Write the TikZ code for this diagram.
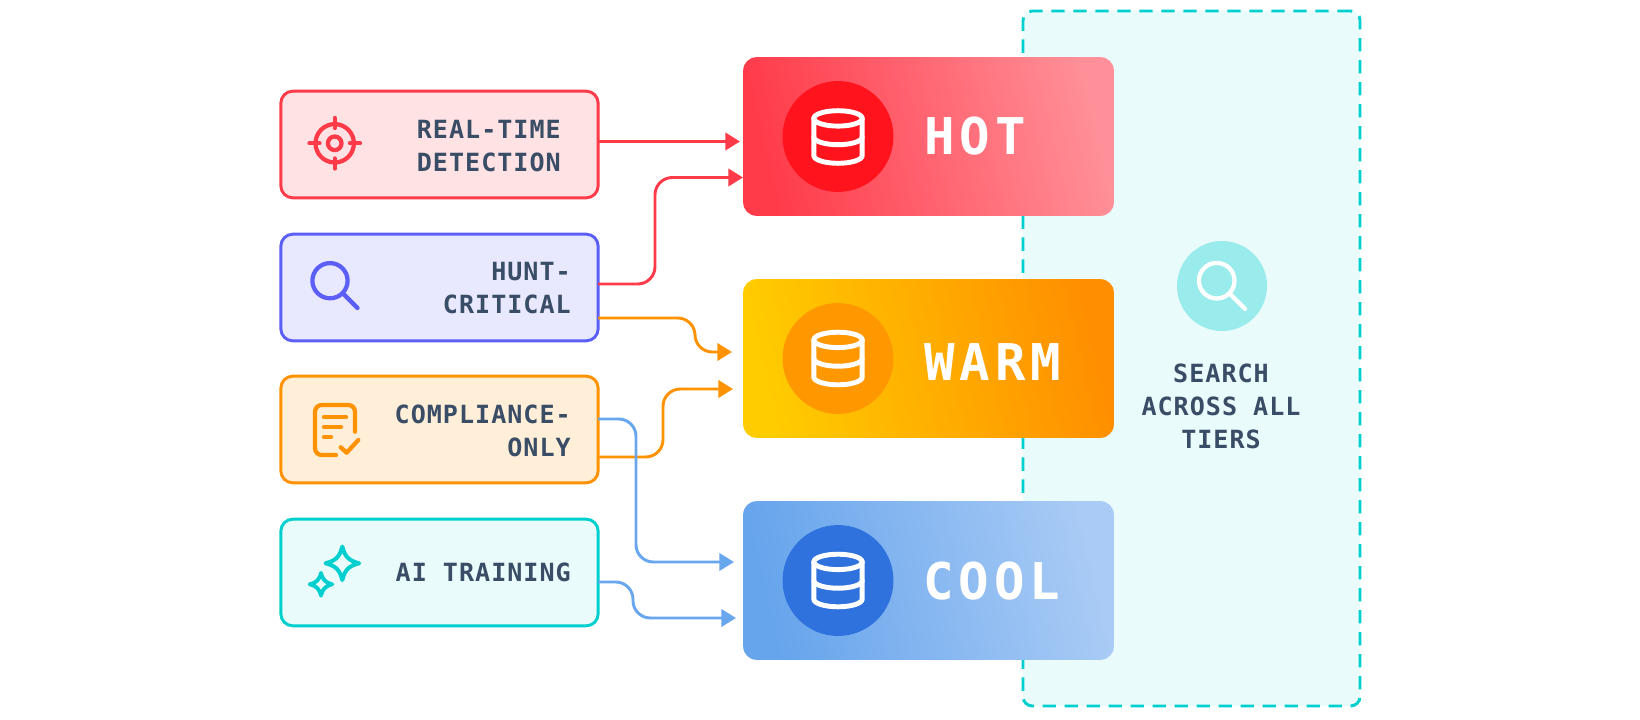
\documentclass[tikz,border=0pt]{standalone}
\usepackage{fontspec}
\usetikzlibrary{arrows.meta}
\newfontfamily\lblfont[LetterSpace=4]{DejaVu Sans Mono}
\newfontfamily\tierfont[LetterSpace=10]{DejaVu Sans Mono}
\definecolor{cred}{HTML}{FF3B4A}
\definecolor{cpurple}{HTML}{5B5FF5}
\definecolor{corange}{HTML}{FF9200}
\definecolor{cteal}{HTML}{00CFD0}
\definecolor{cblue}{HTML}{68A6EE}
\definecolor{ctext}{HTML}{3A4D66}
\definecolor{hotend}{HTML}{FF8F98}
\definecolor{warmstart}{HTML}{FFCC00}
\definecolor{warmend}{HTML}{FF8F00}
\definecolor{coolstart}{HTML}{66A4EC}
\definecolor{coolend}{HTML}{A9CBF5}
\definecolor{hotcirc}{HTML}{FF141E}
\definecolor{warmcirc}{HTML}{FF9800}
\definecolor{coolcirc}{HTML}{2F72DE}
\definecolor{searchcirc}{HTML}{9AECEC}
\definecolor{tealfill}{HTML}{E9FBFB}
\tikzset{
  srcbox/.style={draw=#1,line width=2.2pt,rounded corners=9pt,minimum width=238pt,minimum height=80pt,outer sep=0pt,inner sep=0pt},
  tierbox/.style={rounded corners=10pt,minimum width=278pt,minimum height=119pt,outer sep=0pt,inner sep=0pt},
  tiercirc/.style={circle,minimum size=83.2pt,inner sep=0pt,outer sep=0pt},
  lbl/.style={text=ctext,inner sep=0pt,font={\lblfont\bfseries\fontsize{18.8pt}{24.75pt}\selectfont}},
  tierlbl/.style={text=white,inner sep=0pt,anchor=base west,font={\tierfont\bfseries\fontsize{38pt}{40pt}\selectfont}},
  conn/.style={draw=#1,line width=2.2pt,rounded corners=13pt,-{Triangle[length=11pt,width=13pt]}},
  icon/.style={line width=3.2pt,line cap=round,line join=round},
  dbline/.style={draw=white,line width=3.7pt,line cap=round,line join=round},
  pics/dbicon/.style={code={
    \draw[dbline] (0,-18.6) ellipse [x radius=24.2,y radius=7.7];
    \draw[dbline] (-24.2,-18.6) -- (-24.2,18.6) arc [start angle=180,end angle=360,x radius=24.2,y radius=-7.7] -- (24.2,-18.6);
    \draw[dbline] (-24.2,0) arc [start angle=180,end angle=360,x radius=24.2,y radius=-7.7];
  }},
  pics/sparkle/.style={code={
    \draw[icon,draw=cteal,line width=#1] (0,-1) .. controls (0.16,-0.38) and (0.38,-0.16) .. (1,0)
      .. controls (0.38,0.16) and (0.16,0.38) .. (0,1)
      .. controls (-0.16,0.38) and (-0.38,0.16) .. (-1,0)
      .. controls (-0.38,-0.16) and (-0.16,-0.38) .. (0,-1) -- cycle;
  }},
}
\begin{document}
\begin{tikzpicture}[x=0.75pt,y=-0.75pt]
\useasboundingbox (0,0) rectangle (1640,720);
% search panel
\node[name=panel,draw=cteal,fill=tealfill,line width=2.2pt,dash pattern=on 10pt off 6.5pt,rounded corners=7pt,minimum width=252.75pt,minimum height=521.25pt,inner sep=0,outer sep=0] at (1191.5,358.5) {};
% source boxes
\node[srcbox=cred,fill=cred!15] (b1) at (439.5,144.5) {};
\node[srcbox=cpurple,fill=cpurple!14] (b2) at (439.5,287.5) {};
\node[srcbox=corange,fill=corange!15] (b3) at (439.5,429.5) {};
\node[srcbox=cteal,fill=tealfill] (b4) at (439.5,572.5) {};
% tier boxes
\node[tierbox,left color=cred,right color=hotend,shading angle=103] (hot) at (928.5,136.5) {};
\node[tierbox,left color=warmstart,right color=warmend,shading angle=103] (warm) at (928.5,358.5) {};
\node[tierbox,left color=coolstart,right color=coolend,shading angle=103] (cool) at (928.5,580.5) {};
\node[tiercirc,fill=hotcirc] (hc) at (838,136.5) {};
\node[tiercirc,fill=warmcirc] (wc) at (838,358.5) {};
\node[tiercirc,fill=coolcirc] (cc) at (838,580.5) {};
\pic at (838,137) {dbicon};
\pic at (838,358.5) {dbicon};
\pic at (838,580.5) {dbicon};
\node[tierlbl] (thot) at (924,155) {HOT};
\node[tierlbl] (twarm) at (924,380) {WARM};
\node[tierlbl] (tcool) at (923,599) {COOL};
% connector ends
\coordinate (s1) at (598,141.5); \coordinate (t1) at (740,141.5);
\coordinate (s2) at (598,284);   \coordinate (t2) at (743,177.5);
\coordinate (s3) at (598,318);   \coordinate (t3) at (732,352);
\coordinate (s4) at (598,457);   \coordinate (t4) at (733,389);
\coordinate (s5) at (598,419);   \coordinate (t5) at (734,562);
\coordinate (s6) at (598,582);   \coordinate (t6) at (736,618);
\draw[conn=cred] (s1) -- (t1);
\draw[conn=cred] (s2) -- (655,284) -- (655,177.5) -- (t2);
\draw[conn=corange] (s3) -- (695,318) -- (695,352) -- (t3);
\draw[conn=corange] (s4) -- (663,457) -- (663,389) -- (t4);
\draw[conn=cblue] (s5) -- (636,419) -- (636,562) -- (t5);
\draw[conn=cblue] (s6) -- (633,582) -- (633,618) -- (t6);
% source labels
\node[lbl,align=right,anchor=east] (l1) at (561,146) {REAL-TIME\\DETECTION};
\node[lbl,align=right,anchor=east] (l2) at (571,288.5) {HUNT-\\CRITICAL};
\node[lbl,align=right,anchor=east] (l3) at (571,431) {COMPLIANCE-\\ONLY};
\node[lbl,align=right,anchor=east] (l4) at (571,572.5) {AI TRAINING};
\node[lbl,align=center] (l5) at (1221,406) {SEARCH\\ACROSS ALL\\TIERS};
% target icon
\draw[icon,draw=cred] (334.7,143.3) circle [radius=19.2];
\draw[icon,draw=cred] (334.7,143.3) circle [radius=6.8];
\draw[icon,draw=cred] (334.7,118) -- (334.7,128) (334.7,158.5) -- (334.7,168.5) (309.5,143.3) -- (319.5,143.3) (350,143.3) -- (360,143.3);
% magnifier
\draw[icon,draw=cpurple] (330,280.7) circle [radius=17.6];
\draw[icon,draw=cpurple] (343.5,294) -- (357.5,308);
% document
\draw[icon,draw=corange,rounded corners=5pt] (355,431.7) -- (355,405) -- (315,405) -- (315,455) -- (336,455);
\draw[icon,draw=corange] (324,417) -- (346,417) (324,427) -- (341,427) (324,437) -- (331,437);
\draw[icon,draw=corange] (340.7,447.3) -- (346.7,452.7) -- (358.3,440);
% sparkles
\begin{scope}[shift={(342.3,563.3)},x=12.6pt,y=12.6pt]
\pic {sparkle=3pt};
\end{scope}
\begin{scope}[shift={(321,584.3)},x=8.5pt,y=8.5pt]
\pic {sparkle=2.9pt};
\end{scope}
% panel search icon
\node[circle,fill=searchcirc,minimum size=67.5pt,inner sep=0,outer sep=0] (sc) at (1222,286) {};
\draw[icon,draw=white] (1216.7,280.7) circle [radius=17.8];
\draw[icon,draw=white] (1230,294) -- (1245,309);
\end{tikzpicture}
\end{document}
